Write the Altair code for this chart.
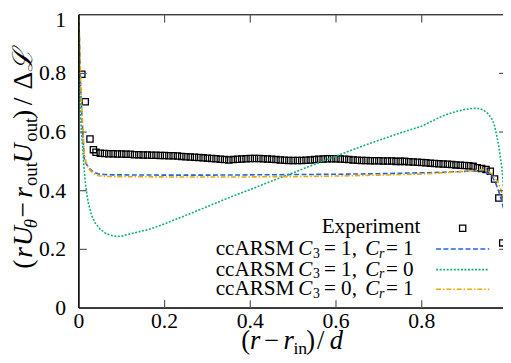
import altair as alt
import pandas as pd

# ---------------- data ----------------
exp_x = [0.007, 0.015, 0.026, 0.034,
         0.04, 0.05, 0.06, 0.07, 0.08, 0.09, 0.10, 0.11, 0.12, 0.13, 0.14, 0.15,
         0.16, 0.17, 0.18, 0.19, 0.20, 0.21, 0.22, 0.23, 0.24, 0.25, 0.26, 0.27,
         0.28, 0.29, 0.30, 0.31, 0.32, 0.33, 0.34, 0.35, 0.36, 0.37, 0.38, 0.39,
         0.40, 0.41, 0.42, 0.43, 0.44, 0.45, 0.46, 0.47, 0.48, 0.49, 0.50, 0.51,
         0.52, 0.53, 0.54, 0.55, 0.56, 0.57, 0.58, 0.59, 0.60, 0.61, 0.62, 0.63,
         0.64, 0.65, 0.66, 0.67, 0.68, 0.69, 0.70, 0.71, 0.72, 0.73, 0.74, 0.75,
         0.76, 0.77, 0.78, 0.79, 0.80, 0.81, 0.82, 0.83, 0.84, 0.85, 0.86, 0.87,
         0.88, 0.89, 0.90, 0.91, 0.92, 0.93, 0.94, 0.95, 0.96, 0.97, 0.98, 0.989]
exp_y = [0.797, 0.703, 0.576, 0.540,
         0.531, 0.528, 0.527, 0.526, 0.526, 0.525, 0.525, 0.524, 0.524, 0.523, 0.523, 0.522,
         0.522, 0.521, 0.521, 0.520, 0.520, 0.519, 0.519, 0.518, 0.517, 0.516, 0.515, 0.514,
         0.513, 0.512, 0.511, 0.510, 0.509, 0.507, 0.506, 0.505, 0.506, 0.507, 0.508, 0.509,
         0.510, 0.510, 0.510, 0.509, 0.508, 0.507, 0.506, 0.505, 0.504, 0.503, 0.503, 0.503,
         0.503, 0.504, 0.505, 0.506, 0.507, 0.508, 0.509, 0.509, 0.509, 0.508, 0.507, 0.506,
         0.505, 0.504, 0.503, 0.503, 0.502, 0.502, 0.502, 0.501, 0.501, 0.501, 0.500, 0.500,
         0.500, 0.499, 0.498, 0.497, 0.496, 0.495, 0.494, 0.493, 0.492, 0.491, 0.490, 0.489,
         0.488, 0.487, 0.486, 0.485, 0.483, 0.478, 0.476, 0.472, 0.466, 0.440, 0.375, 0.222]

blue_x = [0, 0.002, 0.004, 0.007, 0.009, 0.0126, 0.016, 0.021, 0.026, 0.032, 0.038, 0.046,
          0.06, 0.08, 0.1, 0.2, 0.3, 0.4, 0.5, 0.6, 0.7, 0.8, 0.85, 0.9, 0.93, 0.945,
          0.958, 0.965, 0.972, 0.978, 0.984, 0.99, 0.995, 1.0]
blue_y = [1.0, 0.88, 0.76, 0.657, 0.6, 0.51, 0.495, 0.483, 0.474, 0.467, 0.461, 0.457,
          0.455, 0.454, 0.454, 0.453, 0.453, 0.454, 0.455, 0.456, 0.458, 0.461, 0.463, 0.466,
          0.469, 0.467, 0.457, 0.446, 0.428, 0.405, 0.378, 0.345, 0.31, 0.27]

green_x = [0, 0.0015, 0.0034, 0.006, 0.0087, 0.012, 0.015, 0.0185, 0.0225, 0.03, 0.038, 0.049,
           0.061, 0.074, 0.088, 0.1, 0.118, 0.14, 0.168, 0.2, 0.25, 0.3, 0.35, 0.4, 0.45, 0.5,
           0.55, 0.6, 0.65, 0.7, 0.75, 0.8, 0.85, 0.88, 0.9, 0.92, 0.935, 0.945, 0.955, 0.964,
           0.97, 0.975, 0.98, 0.984, 0.987, 0.991, 0.995, 1.0]
green_y = [1.0, 0.8, 0.683, 0.6, 0.55, 0.48, 0.43, 0.39, 0.356, 0.315, 0.29, 0.27,
           0.256, 0.248, 0.244, 0.245, 0.252, 0.26, 0.27, 0.287, 0.316, 0.346, 0.376, 0.404, 0.433, 0.461,
           0.49, 0.518, 0.546, 0.572, 0.597, 0.62, 0.656, 0.67, 0.677, 0.681, 0.68, 0.674, 0.662, 0.644,
           0.622, 0.589, 0.55, 0.51, 0.478, 0.411, 0.35, 0.28]

orange_x = [0, 0.002, 0.004, 0.007, 0.009, 0.0126, 0.016, 0.021, 0.026, 0.032, 0.038, 0.046,
            0.06, 0.08, 0.1, 0.2, 0.3, 0.4, 0.5, 0.6, 0.7, 0.8, 0.85, 0.9, 0.93, 0.945,
            0.958, 0.965, 0.972, 0.978, 0.984, 0.99, 0.995, 1.0]
orange_y = [1.0, 0.89, 0.78, 0.68, 0.62, 0.53, 0.5, 0.482, 0.47, 0.462, 0.455, 0.451,
            0.449, 0.448, 0.448, 0.447, 0.447, 0.447, 0.448, 0.45, 0.453, 0.457, 0.461, 0.466,
            0.471, 0.472, 0.464, 0.456, 0.444, 0.427, 0.407, 0.375, 0.34, 0.29]

x_ticks = [0, 0.2, 0.4, 0.6, 0.8]
x_tick_labels = ["0", "0.2", "0.4", "0.6", "0.8"]
y_ticks = [0, 0.2, 0.4, 0.6, 0.8]
y_tick_labels = ["0", "0.2", "0.4", "0.6", "0.8"]
y_top_label = "1"
legend_rows = [("1,", "1"), ("1,", "0"), ("0,", "1")]

# ---------------- layout ----------------
W, H = 431, 298
XMAX = 0.9897
SERIF = "Liberation Serif"
BLUE, GREEN, ORANGE = "#2065e0", "#0db07c", "#eea800"

xs = alt.Scale(domain=[0, XMAX], nice=False, zero=False)
ys = alt.Scale(domain=[0, 1], nice=False, zero=False)


def one():
    return pd.DataFrame({"a": [0]})


def T(s, x, y, size=22, style="normal", angle=0, align="left", baseline="alphabetic"):
    return alt.Chart(pd.DataFrame({"t": [s]})).mark_text(
        align=align, baseline=baseline, fontSize=size, fontStyle=style,
        font=SERIF, angle=angle, color="black"
    ).encode(text="t:N", x=alt.value(x), y=alt.value(y))


def P(px, py):  # page -> plot coords
    return px - 80, py - 12


exp_df = pd.DataFrame({"x": exp_x, "y": exp_y})
points = alt.Chart(exp_df).mark_point(
    shape="square", filled=False, size=40, color="black", strokeWidth=1.3, opacity=1
).encode(
    x=alt.X("x:Q", scale=xs, axis=None),
    y=alt.Y("y:Q", scale=ys, axis=None),
)


def line(xv, yv, color, dash):
    df = pd.DataFrame({"x": xv, "y": yv})
    return alt.Chart(df).mark_line(color=color, strokeDash=dash, strokeWidth=1.6, clip=True).encode(
        x=alt.X("x:Q", scale=xs, axis=None), y=alt.Y("y:Q", scale=ys, axis=None))


DASH_B, DASH_G, DASH_O = [5, 2.5], [2, 1.6], [5, 2, 1.5, 2]
blue = line(blue_x, blue_y, BLUE, DASH_B)
green = line(green_x, green_y, GREEN, DASH_G)
orange = line(orange_x, orange_y, ORANGE, DASH_O)

# frame
frame = [
    alt.Chart(one()).mark_rule(color="black", strokeWidth=1.2).encode(
        x=alt.value(0), x2=alt.value(W + 5), y=alt.value(0)),
    alt.Chart(one()).mark_rule(color="black", strokeWidth=1.6).encode(
        x=alt.value(0), x2=alt.value(W + 5), y=alt.value(H)),
    alt.Chart(one()).mark_rule(color="black", strokeWidth=1.6).encode(
        x=alt.value(0), y=alt.value(0), y2=alt.value(H)),
]
TICKC = "#555555"
xt = pd.DataFrame({"v": x_ticks[1:]})
yt = pd.DataFrame({"v": y_ticks[1:]})
ticks = [
    alt.Chart(xt).mark_rule(color=TICKC, strokeWidth=1.2).encode(
        x=alt.X("v:Q", scale=xs, axis=None), y=alt.value(H - 8), y2=alt.value(H)),
    alt.Chart(xt).mark_rule(color=TICKC, strokeWidth=1.2).encode(
        x=alt.X("v:Q", scale=xs, axis=None), y=alt.value(0), y2=alt.value(8)),
    alt.Chart(yt).mark_rule(color=TICKC, strokeWidth=1.2).encode(
        y=alt.Y("v:Q", scale=ys, axis=None), x=alt.value(0), x2=alt.value(8)),
    alt.Chart(yt).mark_rule(color=TICKC, strokeWidth=1.2).encode(
        y=alt.Y("v:Q", scale=ys, axis=None), x=alt.value(427), x2=alt.value(436)),
]

# tick labels
xl = pd.DataFrame({"v": x_ticks, "t": x_tick_labels})
yl = pd.DataFrame({"v": y_ticks, "t": y_tick_labels})
tick_labels = [
    alt.Chart(xl).mark_text(align="center", baseline="top", font=SERIF, fontSize=22,
                            color="black").encode(
        x=alt.X("v:Q", scale=xs, axis=None), y=alt.value(H + 3), text="t:N"),
    alt.Chart(yl).mark_text(align="right", baseline="middle", font=SERIF, fontSize=22,
                            color="black").encode(
        y=alt.Y("v:Q", scale=ys, axis=None), x=alt.value(-13), text="t:N"),
    # top label "1": nudged just enough to stay inside the page
    T(y_top_label, -13, 5, size=22, align="right", baseline="middle"),
]

texts = []
# y-axis title, rotated, built from pieces (bottom to top)
BX, SX = -47.5, -43
YS, YSS = 28, 19
ylab = [("(", 270, "normal", YS, BX), ("r", 259, "italic", YS, BX), ("U", 247, "italic", YS, BX),
        ("θ", 229, "italic", YSS, SX), ("−", 218, "normal", YS, BX), ("r", 198, "italic", YS, BX),
        ("out", 186, "normal", YSS, SX), ("U", 163, "italic", YS, BX), ("out", 141, "normal", YSS, SX),
        (")", 118, "normal", YS, BX), ("/", 104, "normal", YS, BX), ("Δ", 88, "normal", YS, BX),
        ("ℒ", 70, "italic", YS, BX)]
for s, py, st, sz, bx in ylab:
    texts.append(T(s, bx, py - 12, size=sz, style=st, angle=270))

# x-axis title pieces
XS, XSS, XB = 27, 18, 352
xlab = [("(", 245, "normal", XS, XB), ("r", 254, "italic", XS, XB), ("−", 268, "normal", XS, XB),
        ("r", 288, "italic", XS, XB), ("in", 298, "normal", XSS, XB + 5), (")", 311, "normal", XS, XB),
        ("/", 322, "normal", XS, XB), ("d", 335, "italic", XS, XB)]
for s, px, st, sz, py in xlab:
    x, y = P(px, py)
    texts.append(T(s, x, y, size=sz, style=st))

# legend
LS = 21.5
x, y = P(427, 228)
texts.append(T("Experiment", x, y, size=LS, align="right", baseline="middle"))
kx, ky = P(470, 229)
key_pt = alt.Chart(one()).mark_point(shape="square", filled=False, size=40, color="black",
                                     strokeWidth=1.3, opacity=1).encode(x=alt.value(kx), y=alt.value(ky))
row_y = [250, 271, 291]
keys = [key_pt]
for (c3, cr), ry, col, dash in zip(legend_rows, row_y, [BLUE, GREEN, ORANGE], [DASH_B, DASH_G, DASH_O]):
    _, y = P(0, ry)
    texts.append(T("ccARSM", P(299, 0)[0], y, size=LS, align="right", baseline="middle"))
    texts.append(T("C", P(303, 0)[0], y, size=LS, style="italic", baseline="middle"))
    texts.append(T("3", P(318, 0)[0], y + 5, size=14, baseline="middle"))
    texts.append(T("= " + c3, P(329, 0)[0], y, size=LS, baseline="middle"))
    texts.append(T("C", P(371, 0)[0], y, size=LS, style="italic", baseline="middle"))
    texts.append(T("r", P(385, 0)[0], y + 5, size=14, style="italic", baseline="middle"))
    texts.append(T("= " + cr, P(392, 0)[0], y, size=LS, baseline="middle"))
    x1, _ = P(443, 0)
    x2, _ = P(497, 0)
    keys.append(alt.Chart(one()).mark_rule(color=col, strokeDash=dash, strokeWidth=1.6).encode(
        x=alt.value(x1), x2=alt.value(x2), y=alt.value(y)))

chart = alt.layer(
    points, blue, green, orange, *frame, *ticks, *tick_labels, *keys, *texts
).properties(
    width=W, height=H,
    autosize=alt.AutoSizeParams(type="none"),
    padding={"left": 72, "top": 4, "right": 0, "bottom": 51},
).configure_view(stroke=None).configure(background="white")

chart.save("out.html", embed_options={"renderer": "svg", "actions": False})
